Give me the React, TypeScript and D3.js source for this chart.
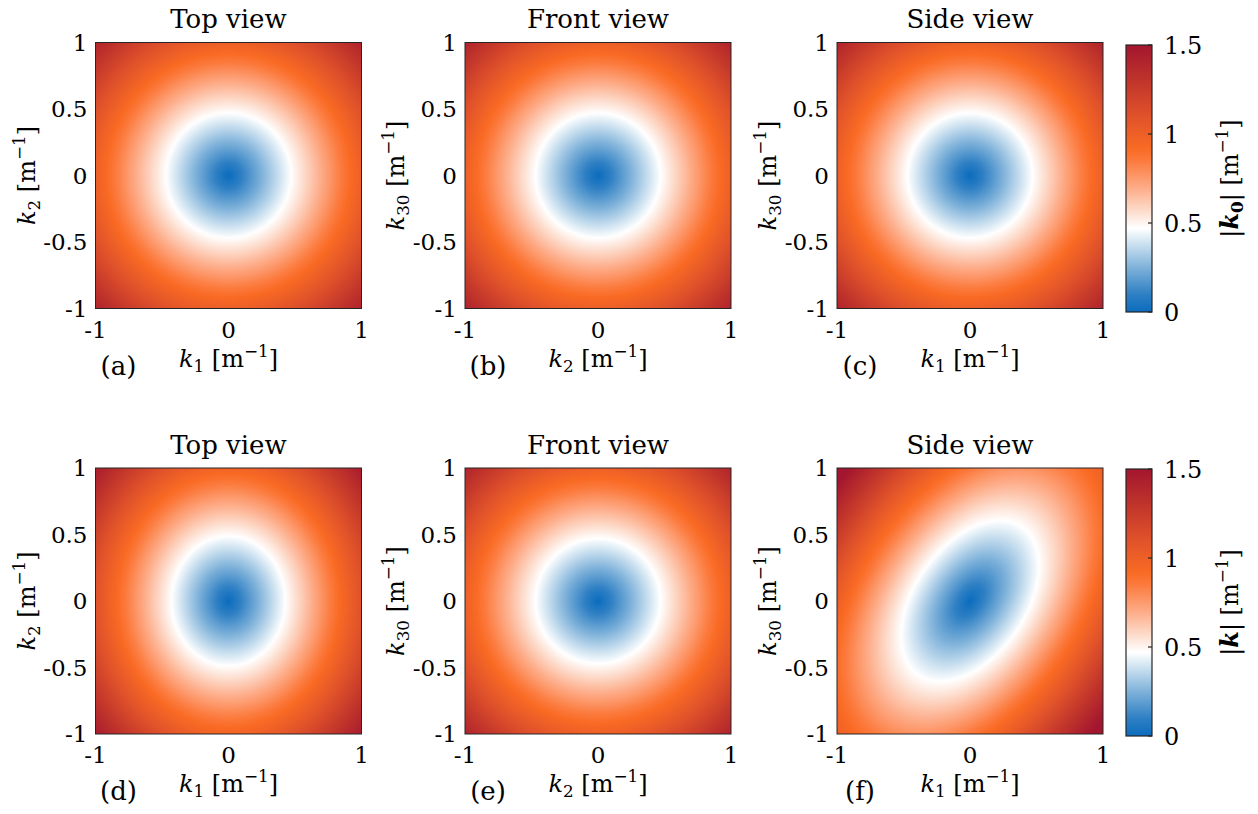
import React, { useMemo } from "react";
import * as d3 from "d3";

const W = 1258;
const H = 814;

// Panel metadata
const panelTitles = ["Top view", "Front view", "Side view", "Top view", "Front view", "Side view"];
const panelTags = ["(a)", "(b)", "(c)", "(d)", "(e)", "(f)"];
const xAxisSub = ["1", "2", "1", "1", "2", "1"];
const yAxisSub = ["2", "30", "30", "2", "30", "30"];

// |k|^2 = m11 x^2 + 2 m12 x y + m22 y^2 for each panel
const m11 = [1, 1, 1, 1.21, 1, 1.017];
const m22 = [1, 1, 1, 0.93, 1, 0.743];
const m12 = [0, 0, 0, 0, 0, -0.376];

// Axis ticks
const yTicks = [-1, -0.5, 0, 0.5, 1];
const yTickLabels = ["-1", "-0.5", "0", "0.5", "1"];
const xTicks = [-1, 0, 1];
const xTickLabels = ["-1", "0", "1"];
const cbTicks = [0, 0.5, 1, 1.5];
const cbTickLabels = ["0", "0.5", "1", "1.5"];
const cbSubscripts = ["0", ""];

// Diverging colormap (value -> colour)
const cmapValues = [0, 0.1, 0.25, 0.4, 0.47, 0.55, 0.7, 0.85, 0.92, 1.1, 1.3, 1.5];
const cmapColors = [
  "#0b6cbd", "#2f80c4", "#7fb2da", "#d6e7f3", "#ffffff", "#fde2d5",
  "#fdab87", "#fc7a3d", "#f96a24", "#e0522a", "#c0342b", "#a3162f",
];

// Layout
const colLeft = [95.5, 465, 837];
const rowTop = [42.5, 468];
const SIZE = 266;
const cbLeft = 1126;
const cbWidth = 26;
const cbTop = [45, 469];
const cbHeight = 267;

const SERIF = "'DejaVu Serif', 'Liberation Serif', serif";
const INK = "#262626";

const color = d3
  .scaleLinear<string>()
  .domain(cmapValues)
  .range(cmapColors)
  .interpolate(d3.interpolateRgb)
  .clamp(true);

function fieldImage(p: number): string {
  const n = SIZE;
  const canvas = document.createElement("canvas");
  canvas.width = n;
  canvas.height = n;
  const ctx = canvas.getContext("2d")!;
  const img = ctx.createImageData(n, n);
  const xs = d3.scaleLinear().domain([0, n]).range([-1, 1]);
  const ys = d3.scaleLinear().domain([0, n]).range([1, -1]);
  for (let j = 0; j < n; j++) {
    const y = ys(j + 0.5);
    for (let i = 0; i < n; i++) {
      const x = xs(i + 0.5);
      const q = m11[p] * x * x + 2 * m12[p] * x * y + m22[p] * y * y;
      const c = d3.rgb(color(Math.sqrt(Math.max(q, 0))));
      const k = (j * n + i) * 4;
      img.data[k] = c.r;
      img.data[k + 1] = c.g;
      img.data[k + 2] = c.b;
      img.data[k + 3] = 255;
    }
  }
  ctx.putImageData(img, 0, 0);
  return canvas.toDataURL();
}

function KLabel({ sub, size }: { sub: string; size: number }) {
  const s = size * 0.7;
  return (
    <>
      <tspan fontStyle="italic">k</tspan>
      <tspan fontSize={s} dy={size * 0.22}>{sub}</tspan>
      <tspan dy={-size * 0.22}>{"\u00a0[m"}</tspan>
      <tspan fontSize={s} dy={-size * 0.4}>{"\u22121"}</tspan>
      <tspan dy={size * 0.4}>]</tspan>
    </>
  );
}

function Panel({ p, href }: { p: number; href: string }) {
  const col = p % 3;
  const row = Math.floor(p / 3);
  const left = colLeft[col];
  const top = rowTop[row];
  const x = d3.scaleLinear().domain([-1, 1]).range([left, left + SIZE]);
  const y = d3.scaleLinear().domain([-1, 1]).range([top + SIZE, top]);
  const fs = 23;
  return (
    <g>
      <image href={href} x={left} y={top} width={SIZE} height={SIZE} preserveAspectRatio="none" />
      <rect x={left} y={top} width={SIZE} height={SIZE} fill="none" stroke={INK} strokeWidth={1} />
      <text x={left + SIZE / 2} y={top - 14.5} textAnchor="middle" fontSize={26} fontFamily={SERIF} fill="#000">
        {panelTitles[p]}
      </text>
      {yTicks.map((t, i) => (
        <text key={"y" + i} x={left - 8} y={y(t)} dy="0.36em" textAnchor="end" fontSize={fs} fontFamily={SERIF} fill="#000">
          {yTickLabels[i]}
        </text>
      ))}
      {xTicks.map((t, i) => (
        <text key={"x" + i} x={x(t)} y={top + SIZE + 29} textAnchor="middle" fontSize={fs} fontFamily={SERIF} fill="#000">
          {xTickLabels[i]}
        </text>
      ))}
      <text x={left + SIZE / 2} y={top + SIZE + 58} textAnchor="middle" fontSize={24} fontFamily={SERIF} fill="#000">
        <KLabel sub={xAxisSub[p]} size={24} />
      </text>
      <text transform={`translate(${left - 61},${top + SIZE / 2}) rotate(-90)`} textAnchor="middle" fontSize={24} fontFamily={SERIF} fill="#000">
        <KLabel sub={yAxisSub[p]} size={24} />
      </text>
      <text x={left + 23} y={top + SIZE + 66} textAnchor="middle" fontSize={26} fontFamily={SERIF} fill="#000">
        {panelTags[p]}
      </text>
    </g>
  );
}

function Colorbar({ row }: { row: number }) {
  const top = cbTop[row];
  const s = d3.scaleLinear().domain([0, 1.5]).range([top + cbHeight, top]);
  const gid = "cbgrad" + row;
  const size = 24;
  return (
    <g>
      <defs>
        <linearGradient id={gid} x1="0" y1="1" x2="0" y2="0">
          {cmapValues.map((v, i) => (
            <stop key={i} offset={v / 1.5} stopColor={cmapColors[i]} />
          ))}
        </linearGradient>
      </defs>
      <rect x={cbLeft} y={top} width={cbWidth} height={cbHeight} fill={`url(#${gid})`} stroke={INK} strokeWidth={1.2} />
      {cbTicks.map((t, i) => (
        <g key={i}>
          <line x1={cbLeft + cbWidth - 4} x2={cbLeft + cbWidth} y1={s(t)} y2={s(t)} stroke={INK} strokeWidth={1.2} />
          <text x={cbLeft + cbWidth + 12} y={s(t)} dy="0.36em" fontSize={size} fontFamily={SERIF} fill="#000">
            {cbTickLabels[i]}
          </text>
        </g>
      ))}
      <text transform={`translate(1238,${top + cbHeight / 2}) rotate(-90)`} textAnchor="middle" fontSize={size} fontFamily={SERIF} fill="#000">
        <tspan>|</tspan>
        <tspan fontStyle="italic" fontWeight="bold">k</tspan>
        {cbSubscripts[row] ? (
          <>
            <tspan fontSize={size * 0.7} fontWeight="bold" dy={size * 0.22}>{cbSubscripts[row]}</tspan>
            <tspan dy={-size * 0.22}>|</tspan>
          </>
        ) : (
          <tspan>|</tspan>
        )}
        <tspan>{"\u00a0[m"}</tspan>
        <tspan fontSize={size * 0.7} dy={-size * 0.4}>{"\u22121"}</tspan>
        <tspan dy={size * 0.4}>]</tspan>
      </text>
    </g>
  );
}

export default function App() {
  const hrefs = useMemo(() => panelTitles.map((_, p) => fieldImage(p)), []);
  return (
    <svg width={W} height={H} viewBox={`0 0 ${W} ${H}`} style={{ display: "block", position: "absolute", left: 0, top: 0, background: "#fff" }}>
      <rect width={W} height={H} fill="#fff" />
      {panelTitles.map((_, p) => (
        <Panel key={p} p={p} href={hrefs[p]} />
      ))}
      <Colorbar row={0} />
      <Colorbar row={1} />
    </svg>
  );
}
